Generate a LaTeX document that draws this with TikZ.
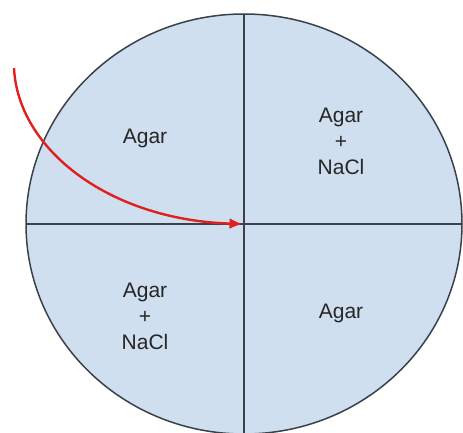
\documentclass[tikz,border=0pt]{standalone}
\usepackage{fontspec}
\setmainfont{Liberation Sans}
\usetikzlibrary{arrows.meta,shapes.geometric}

\definecolor{agarblue}{HTML}{CFDFEF}
\definecolor{rimgray}{HTML}{3B4148}
\definecolor{pathred}{HTML}{E0201E}

\begin{document}
\begin{tikzpicture}[
  x=1pt,y=1pt,
  >=Latex,
  dish/.style={shape=ellipse,draw=rimgray,fill=agarblue,line width=1.5pt,
    minimum width=436pt,minimum height=420pt,inner sep=0pt,outer sep=0pt},
  divider/.style={draw=rimgray,line width=1.7pt},
  medium/.style={align=center,font=\fontsize{21}{26}\selectfont,text=black!85},
  streak/.style={draw=pathred,line width=2.4pt,
    arrows={-Latex[length=13pt,width=11pt]},shorten >=1.5pt}
]
  \useasboundingbox (0,0) rectangle (463,432);

  \node[dish] (plate) at (244,208) {};
  \draw[divider] (plate.north) -- (plate.south);
  \draw[divider] (plate.west) -- (plate.east);

  \node[medium] (topleft) at (145,294) {Agar};
  \node[medium] (topright) at (341,291) {Agar\\+\\NaCl};
  \node[medium] (botleft) at (145,116) {Agar\\+\\NaCl};
  \node[medium] (botright) at (341,119) {Agar};

  % red streak into the middle
  \coordinate (streakstart) at (14,364);
  \draw[streak] (streakstart) .. controls (18,282) and (110,212) .. (plate.center);
\end{tikzpicture}
\end{document}
